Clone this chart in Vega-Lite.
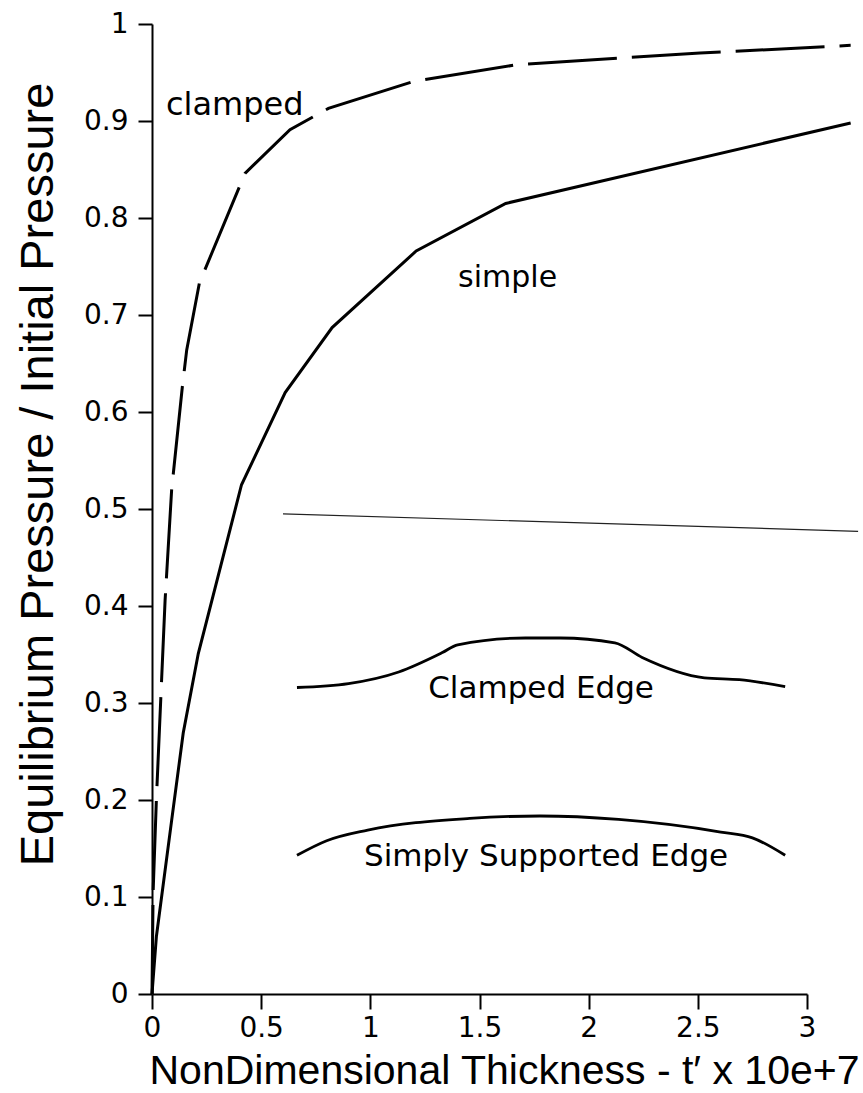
{
  "$schema": "https://vega.github.io/schema/vega-lite/v6.json",
  "width": 655,
  "height": 970,
  "autosize": {"type": "none"},
  "padding": {"left": 152, "top": 24, "right": 56, "bottom": 99},
  "background": "white",
  "config": {"view": {"stroke": null}},
  "datasets": {
    "curves": [
      {"curve": "clamped", "t": 0, "p": 0},
      {"curve": "clamped", "t": 0.005, "p": 0.104},
      {"curve": "clamped", "t": 0.02, "p": 0.2},
      {"curve": "clamped", "t": 0.044, "p": 0.324},
      {"curve": "clamped", "t": 0.06, "p": 0.406},
      {"curve": "clamped", "t": 0.09, "p": 0.52},
      {"curve": "clamped", "t": 0.139, "p": 0.626},
      {"curve": "clamped", "t": 0.159, "p": 0.664},
      {"curve": "clamped", "t": 0.217, "p": 0.733},
      {"curve": "clamped", "t": 0.426, "p": 0.846},
      {"curve": "clamped", "t": 0.632, "p": 0.891},
      {"curve": "clamped", "t": 0.808, "p": 0.913},
      {"curve": "clamped", "t": 1.2, "p": 0.941},
      {"curve": "clamped", "t": 1.67, "p": 0.958},
      {"curve": "clamped", "t": 2.144, "p": 0.965},
      {"curve": "clamped", "t": 2.51, "p": 0.97},
      {"curve": "clamped", "t": 3.2, "p": 0.978},
      {"curve": "simple", "t": 0, "p": 0},
      {"curve": "simple", "t": 0.02, "p": 0.059},
      {"curve": "simple", "t": 0.09, "p": 0.179},
      {"curve": "simple", "t": 0.143, "p": 0.269},
      {"curve": "simple", "t": 0.212, "p": 0.351},
      {"curve": "simple", "t": 0.41, "p": 0.525},
      {"curve": "simple", "t": 0.61, "p": 0.62},
      {"curve": "simple", "t": 0.825, "p": 0.687},
      {"curve": "simple", "t": 1.21, "p": 0.766},
      {"curve": "simple", "t": 1.62, "p": 0.815},
      {"curve": "simple", "t": 3.2, "p": 0.898},
      {"curve": "clampededge", "t": 0.664, "p": 0.316},
      {"curve": "clampededge", "t": 0.9, "p": 0.32},
      {"curve": "clampededge", "t": 1.13, "p": 0.332},
      {"curve": "clampededge", "t": 1.33, "p": 0.352},
      {"curve": "clampededge", "t": 1.4, "p": 0.36},
      {"curve": "clampededge", "t": 1.71, "p": 0.367},
      {"curve": "clampededge", "t": 1.87, "p": 0.367},
      {"curve": "clampededge", "t": 2.12, "p": 0.362},
      {"curve": "clampededge", "t": 2.245, "p": 0.347},
      {"curve": "clampededge", "t": 2.53, "p": 0.326},
      {"curve": "clampededge", "t": 2.69, "p": 0.324},
      {"curve": "clampededge", "t": 2.9, "p": 0.317},
      {"curve": "simplyedge", "t": 0.664, "p": 0.143},
      {"curve": "simplyedge", "t": 0.8, "p": 0.158},
      {"curve": "simplyedge", "t": 0.988, "p": 0.169},
      {"curve": "simplyedge", "t": 1.455, "p": 0.181},
      {"curve": "simplyedge", "t": 1.777, "p": 0.1835},
      {"curve": "simplyedge", "t": 2.137, "p": 0.18},
      {"curve": "simplyedge", "t": 2.605, "p": 0.167},
      {"curve": "simplyedge", "t": 2.75, "p": 0.161},
      {"curve": "simplyedge", "t": 2.9, "p": 0.143},
      {"curve": "fold", "t": 0.6, "p": 0.495},
      {"curve": "fold", "t": 3.234, "p": 0.477}
    ],
    "curvelabels": [
      {"label": "clamped", "t": 0.064, "p": 0.906},
      {"label": "simple", "t": 1.402, "p": 0.729}
    ],
    "edgelabels": [
      {"label": "Clamped Edge", "t": 1.782, "p": 0.305},
      {"label": "Simply Supported Edge", "t": 1.805, "p": 0.132}
    ]
  },
  "encoding": {
    "x": {
      "field": "t", "type": "quantitative",
      "scale": {"domain": [0, 3], "nice": false, "zero": false},
      "axis": {
        "values": [0, 0.5, 1, 1.5, 2, 2.5, 3],
        "format": "~g",
        "grid": false,
        "domainColor": "black", "domainWidth": 2,
        "tickColor": "black", "tickWidth": 2, "tickSize": 15,
        "labelFont": "DejaVu Sans", "labelFontSize": 28, "labelColor": "black", "labelPadding": 5,
        "labelFlush": false,
        "title": "NonDimensional Thickness - t′ x 10e+7",
        "titleFont": "Liberation Sans", "titleFontSize": 41, "titleFontWeight": "normal", "titleColor": "black",
        "titleX": 352, "titleY": 89, "titleAlign": "center", "titleBaseline": "alphabetic"
      }
    },
    "y": {
      "field": "p", "type": "quantitative",
      "scale": {"domain": [0, 1], "nice": false, "zero": false},
      "axis": {
        "values": [0, 0.1, 0.2, 0.3, 0.4, 0.5, 0.6, 0.7, 0.8, 0.9, 1],
        "format": "~g",
        "grid": false,
        "domainColor": "black", "domainWidth": 2,
        "tickColor": "black", "tickWidth": 2, "tickSize": 14,
        "labelFont": "DejaVu Sans", "labelFontSize": 28, "labelColor": "black", "labelPadding": 10,
        "labelFlush": false,
        "title": "Equilibrium Pressure / Initial Pressure",
        "titleFont": "Liberation Sans", "titleFontSize": 47, "titleFontWeight": "normal", "titleColor": "black",
        "titleX": -100, "titleY": 450, "titleAngle": 270, "titleAlign": "center", "titleBaseline": "alphabetic"
      }
    }
  },
  "layer": [
    {
      "data": {"name": "curves"},
      "transform": [{"filter": "datum.curve === 'clamped'"}],
      "mark": {"type": "line", "color": "black", "strokeWidth": 3, "strokeDash": [89, 15], "clip": false}
    },
    {
      "data": {"name": "curves"},
      "transform": [{"filter": "datum.curve === 'simple'"}],
      "mark": {"type": "line", "color": "black", "strokeWidth": 3, "clip": false}
    },
    {
      "data": {"name": "curves"},
      "transform": [{"filter": "datum.curve === 'clampededge' || datum.curve === 'simplyedge'"}],
      "mark": {"type": "line", "color": "black", "strokeWidth": 2.8, "interpolate": "monotone", "clip": false},
      "encoding": {"detail": {"field": "curve"}}
    },
    {
      "data": {"name": "curves"},
      "transform": [{"filter": "datum.curve === 'fold'"}],
      "mark": {"type": "line", "color": "#222222", "strokeWidth": 1.2, "clip": false}
    },
    {
      "data": {"name": "curvelabels"},
      "transform": [{"filter": "datum.label === 'clamped'"}],
      "mark": {"type": "text", "font": "DejaVu Sans", "fontSize": 32, "align": "left", "baseline": "alphabetic", "color": "black"},
      "encoding": {"text": {"field": "label"}}
    },
    {
      "data": {"name": "curvelabels"},
      "transform": [{"filter": "datum.label === 'simple'"}],
      "mark": {"type": "text", "font": "DejaVu Sans", "fontSize": 30, "align": "left", "baseline": "alphabetic", "color": "black"},
      "encoding": {"text": {"field": "label"}}
    },
    {
      "data": {"name": "edgelabels"},
      "mark": {"type": "text", "font": "DejaVu Sans", "fontSize": 31, "align": "center", "baseline": "alphabetic", "color": "black"},
      "encoding": {"text": {"field": "label"}}
    }
  ]
}
